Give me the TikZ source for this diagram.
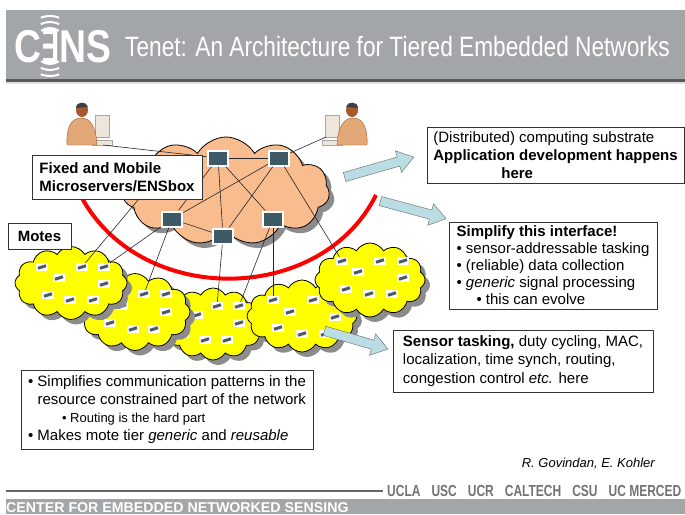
\documentclass[tikz,border=0pt]{standalone}
\usepackage{fontspec}
\setmainfont{Liberation Sans}
\newfontfamily\narrowfont{Liberation Sans}[FakeStretch=0.81]
\newfontfamily\condfont{Liberation Sans}[FakeStretch=0.75]
\usetikzlibrary{shapes.symbols,shapes.arrows,shadows}

\definecolor{bargray}{HTML}{A3A6A9}
\definecolor{cloudorange}{HTML}{F9BC8E}
\definecolor{moteyellow}{HTML}{FFFF00}
\definecolor{arrowblue}{HTML}{B9DDE3}
\definecolor{srvcol}{HTML}{3E5A66}
\definecolor{motecol}{HTML}{505A62}
\definecolor{skin}{HTML}{A8582E}
\definecolor{shirt}{HTML}{E3A877}
\definecolor{screen}{HTML}{EFE6DA}

\begin{document}
\begin{tikzpicture}[x=1pt,y=-1pt,font=\fontsize{15}{18}\selectfont,
  puff/.style={cloud,cloud puffs=12,cloud puff arc=120,cloud ignores aspect,
    draw=black,line width=0.8pt,inner sep=0pt,
    drop shadow={shadow xshift=5pt,shadow yshift=-5pt,fill=black!45,opacity=1}},
  mote/.style={fill=white,minimum width=12pt,minimum height=8pt,inner sep=0pt,
    path picture={\draw[motecol,line width=3pt]
      ([shift={(-4pt,-1.3pt)}]path picture bounding box.center) --
      ([shift={(4pt,1.3pt)}]path picture bounding box.center);}},
  server/.style={fill=white,minimum width=22pt,minimum height=17pt,inner sep=0pt,
    path picture={\fill[srvcol]
      ([shift={(2pt,-2pt)}]path picture bounding box.north west) rectangle
      ([shift={(-2pt,2pt)}]path picture bounding box.south east);}},
  note/.style={draw=black!80,fill=white,align=left,inner sep=0pt},
  fat/.style={single arrow,draw=black!60,fill=arrowblue,minimum width=22pt,
    single arrow head extend=6.5pt,single arrow tip angle=70,inner xsep=0pt,inner ysep=4.5pt}]
\useasboundingbox (0,0) rectangle (685,514);

% header
\fill[bargray] (6,10) rectangle (685,79);
\draw[black!65,line width=3pt] (6,80) -- (685,80);
\fill[black!12] (6,81.5) rectangle (685,84);
\node[anchor=base west,inner sep=0pt,text=white,font=\narrowfont\bfseries\fontsize{46}{46}\selectfont] (c) at (14,62) {C};
\fill[white] (43,29) rectangle (57,34) (43,43.5) rectangle (57,48.5) (43,58) rectangle (57,63) (53,29) rectangle (57,63);
\node[anchor=base west,inner sep=0pt,text=white,font=\narrowfont\bfseries\fontsize{46}{46}\selectfont] (ns) at (59,62) {NS};
\draw[white,line width=2pt]
  ([shift={(54:15pt)}]50,43) arc[start angle=54,end angle=126,radius=15pt]
  ([shift={(64:21pt)}]50,43) arc[start angle=64,end angle=116,radius=21pt]
  ([shift={(70:27pt)}]50,43) arc[start angle=70,end angle=110,radius=27pt]
  ([shift={(-54:15pt)}]50,49) arc[start angle=-54,end angle=-126,radius=15pt]
  ([shift={(-64:21pt)}]50,49) arc[start angle=-64,end angle=-116,radius=21pt]
  ([shift={(-70:27pt)}]50,49) arc[start angle=-70,end angle=-110,radius=27pt];
\node[anchor=base west,inner sep=0pt,text=white,font=\narrowfont\fontsize{28}{28}\selectfont] (title) at (125,56) {Tenet: An Architecture for Tiered Embedded Networks};

% footer
\fill[bargray] (6,499) rectangle (685,514);
\node[anchor=base west,inner sep=0pt,text=white,font=\bfseries\fontsize{14.2}{15}\selectfont] (cens) at (6,512) {CENTER FOR EMBEDDED NETWORKED SENSING};
\draw[black!60,line width=1.5pt] (6,491) -- (383,491);
\node[anchor=west,inner sep=0pt,text=black!55,font=\condfont\bfseries\fontsize{16}{16}\selectfont] (unis) at (387,491) {UCLA\hspace{11pt}USC\hspace{11pt}UCR\hspace{11pt}CALTECH\hspace{11pt}CSU\hspace{11pt}UC MERCED};
\node[anchor=east,inner sep=0pt,font=\itshape\fontsize{13}{15}\selectfont] (auth) at (655,464) {R. Govindan, E. Kohler};

% mote tier
\node[puff,fill=moteyellow,minimum width=100pt,minimum height=72pt] (y3) at (213,324) {};
\node[mote] (c1) at (217,306) {};
\node[mote] (c2) at (239,306) {};
\node[mote] (c3) at (197,315) {};
\node[mote] (c4) at (239,323) {};
\node[mote] (c5) at (183,334) {};
\node[mote] (c6) at (205,340) {};
\node[mote] (c7) at (227,340) {};
\node[puff,fill=moteyellow,minimum width=110pt,minimum height=77pt] (y2) at (135,312) {};
\node[mote] (b1) at (144,294) {};
\node[mote] (b2) at (166,294) {};
\node[mote] (b3) at (122,306) {};
\node[mote] (b4) at (166,312) {};
\node[mote] (b5) at (110,323) {};
\node[mote] (b6) at (133,329) {};
\node[mote] (b7) at (154,329) {};
\node[puff,fill=moteyellow,minimum width=112pt,minimum height=73pt] (y1) at (71,283) {};
\node[mote] (a1) at (42,267) {};
\node[mote] (a2) at (82,267) {};
\node[mote] (a3) at (104,267) {};
\node[mote] (a4) at (59,278) {};
\node[mote] (a5) at (104,284) {};
\node[mote] (a6) at (48,295) {};
\node[mote] (a7) at (70,300) {};
\node[mote] (a8) at (93,300) {};
\node[puff,fill=moteyellow,minimum width=110pt,minimum height=72pt] (y4) at (302,316) {};
\node[mote] (d1) at (273,300) {};
\node[mote] (d2) at (313,300) {};
\node[mote] (d3) at (290,312) {};
\node[mote] (d4) at (335,317) {};
\node[mote] (d5) at (278,328) {};
\node[mote] (d6) at (302,334) {};
\node[mote] (d7) at (325,334) {};
\node[puff,fill=moteyellow,minimum width=110pt,minimum height=74pt] (y5) at (370,280) {};
\node[mote] (e1) at (342,261) {};
\node[mote] (e2) at (380,261) {};
\node[mote] (e3) at (403,261) {};
\node[mote] (e4) at (358,272) {};
\node[mote] (e5) at (403,278) {};
\node[mote] (e6) at (346,289) {};
\node[mote] (e7) at (369,294) {};
\node[mote] (e8) at (392,294) {};

% microserver tier
\node[puff,fill=cloudorange,cloud puffs=11,minimum width=207pt,minimum height=108pt] (net) at (226,191) {};
\draw[red,line width=4pt] (76,186) .. controls (130,308) and (320,308) .. (376,195);
\node[server] (s1) at (218,158) {};
\node[server] (s2) at (279,158) {};
\node[server] (s3) at (172,219) {};
\node[server] (s4) at (223,236) {};
\node[server] (s5) at (273,219) {};
\coordinate (h) at (158,176);

% users
\filldraw[fill=screen,draw=black!35] (95,115) rectangle (109,137);
\filldraw[fill=screen,draw=black!35] (92,140) rectangle (112,145);
\filldraw[fill=shirt,draw=skin] (67,145) .. controls (66,126) and (72,118) .. (81,118) .. controls (91,118) and (96,128) .. (97,145) -- cycle;
\fill[skin] (82,110) ellipse (6 and 7);
\fill[black!75] (76,108) .. controls (76,101) and (87,101) .. (88,107) -- cycle;
\coordinate (pl) at (103,145);
\filldraw[fill=screen,draw=black!35] (325,115) rectangle (339,137);
\filldraw[fill=screen,draw=black!35] (322,140) rectangle (342,145);
\filldraw[fill=shirt,draw=skin] (337,145) .. controls (338,128) and (343,118) .. (353,118) .. controls (362,118) and (368,126) .. (367,145) -- cycle;
\fill[skin] (352,110) ellipse (6 and 7);
\fill[black!75] (346,107) .. controls (347,101) and (358,101) .. (358,108) -- cycle;
\coordinate (pr) at (326,137);

\tikzset{link/.style={black!85,line width=0.6pt}}
\path
  (pl) edge [link] (s1)
  (pr) edge [link] (s2)
  (s1) edge [link] (s2)
  (s1) edge [link] (s3)
  (s1) edge [link] (s4)
  (s1) edge [link] (s5)
  (s2) edge [link] (s3)
  (s2) edge [link] (s4)
  (s3) edge [link] (s4)
  (h)  edge [link] (a2)
  (s3) edge [link] (a3)
  (s3) edge [link] (b1)
  (s4) edge [link] (c1)
  (s5) edge [link] (c2)
  (s5) edge [link] (d1)
  (s2) edge [link] (e1);

\node[note,font=\bfseries\fontsize{15}{18}\selectfont,minimum width=170pt,minimum height=44pt] (fixed) at (117,177) {Fixed and Mobile\\Microservers/ENSbox};
\node[note,font=\bfseries\fontsize{15}{18}\selectfont,minimum width=63pt,minimum height=26pt] (motes) at (39.5,236) {Motes};

% callouts
\node[fat,minimum height=72pt,rotate=16] (f1) at (376,168) {};
\node[fat,minimum height=68pt,rotate=-15] (f2) at (410,209) {};
\node[fat,minimum height=66pt,rotate=-16] (f3) at (353,339) {};

\node[note,minimum width=257pt,minimum height=56pt] (dist) at (555.5,155)
  {(Distributed) computing substrate\\\textbf{Application development happens}\\\hspace*{68pt}\textbf{here}};
\node[note,font=\fontsize{15}{17}\selectfont,minimum width=208pt,minimum height=87pt] (simp) at (553,265.5)
  {\textbf{Simplify this interface!}\\• sensor-addressable tasking\\• (reliable) data collection\\• \textit{generic} signal processing\\\hspace*{20pt}• this can evolve};
\node[note,font=\fontsize{15}{18.5}\selectfont,minimum width=260pt,minimum height=62pt] (task) at (523,361)
  {\textbf{Sensor tasking,} duty cycling, MAC,\\localization, time synch, routing,\\congestion control \textit{etc.} here};
\node[note,minimum width=292pt,minimum height=79pt] (tier) at (167,409.5)
  {• Simplifies communication patterns in the\\\hspace*{9.5pt}resource constrained part of the network\\\hspace*{34pt}{\fontsize{13}{18}\selectfont • Routing is the hard part}\\• Makes mote tier \textit{generic} and \textit{reusable}};
\end{tikzpicture}
\end{document}
